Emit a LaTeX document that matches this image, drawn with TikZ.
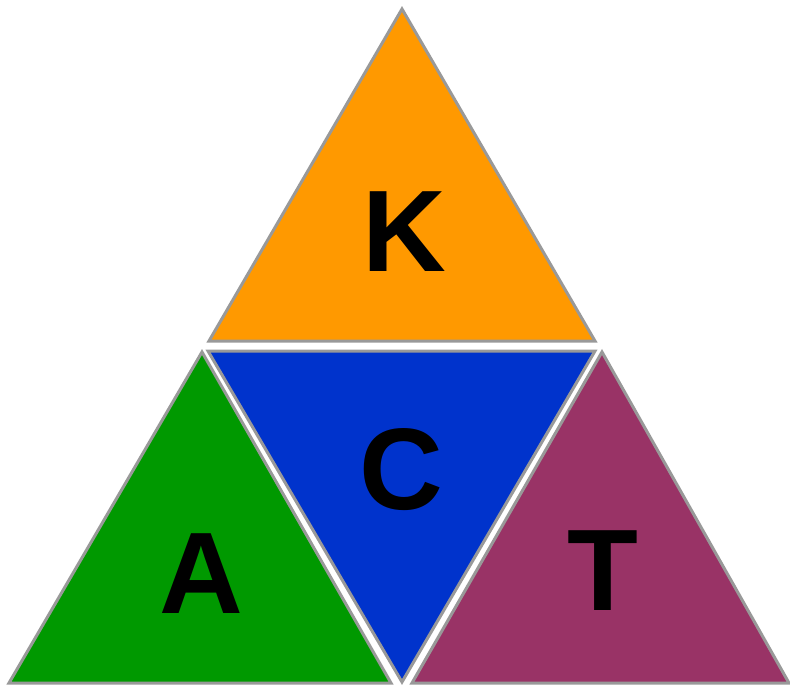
\documentclass[tikz,border=0pt]{standalone}
\usepackage{fontspec}
\setmainfont{Liberation Sans}
\definecolor{kor}{HTML}{FF9900}
\definecolor{cbl}{HTML}{0033CC}
\definecolor{agr}{HTML}{009900}
\definecolor{tpu}{HTML}{993366}
\definecolor{edge}{HTML}{999999}
\begin{document}
\begin{tikzpicture}[x=1pt,y=-1pt,
  tri/.style={draw=edge,line width=3pt,line join=miter},
  lett/.style={inner sep=0pt,font=\fontsize{116}{116}\selectfont\bfseries}]
\useasboundingbox (0,0) rectangle (790,686);
\filldraw[tri,fill=kor] (402,9) -- (595,341) -- (209,341) -- cycle;
\filldraw[tri,fill=cbl] (208,351) -- (595,351) -- (402,682) -- cycle;
\filldraw[tri,fill=agr] (202,352) -- (391,683) -- (9,683) -- cycle;
\filldraw[tri,fill=tpu] (602,352) -- (789,683) -- (412,683) -- cycle;
\node[lett] (k) at (404,232) {K};
\node[lett] (c) at (401,470) {C};
\node[lett] (a) at (201,574) {A};
\node[lett] (t) at (603,571) {T};
\end{tikzpicture}
\end{document}
